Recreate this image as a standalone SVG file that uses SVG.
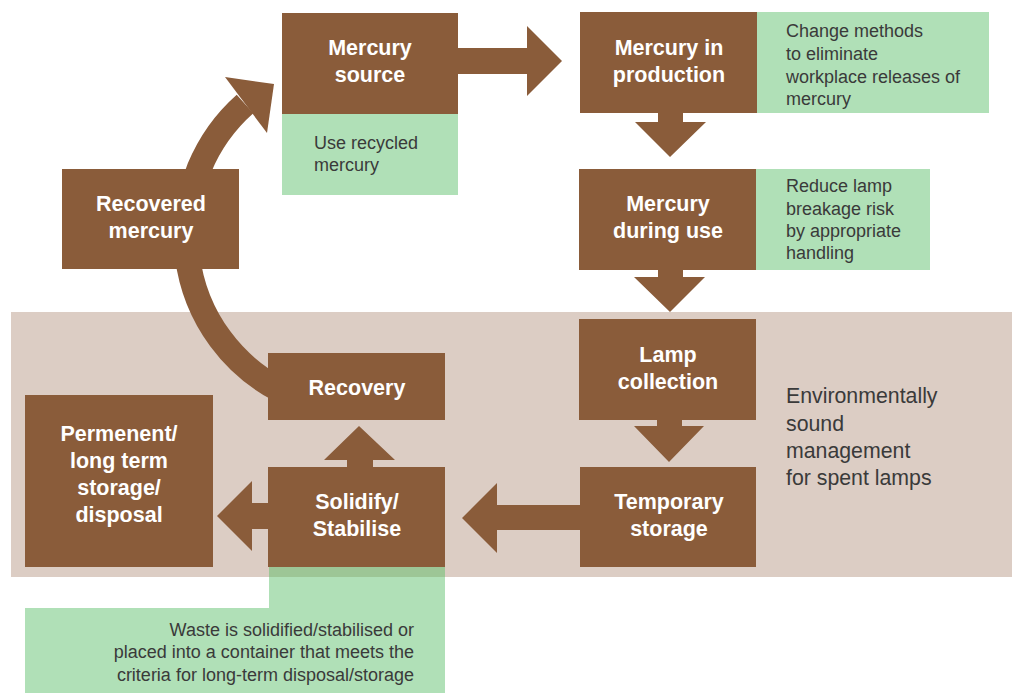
<svg xmlns="http://www.w3.org/2000/svg" width="1012" height="693" viewBox="0 0 1012 693">
<style>
.box{fill:#8a5c3a}
.note{fill:#b0e0b7}
.t{font-family:"Liberation Sans",Arial,sans-serif;font-size:21.5px;font-weight:bold;fill:#ffffff;text-anchor:middle}
.n{font-family:"Liberation Sans",Arial,sans-serif;font-size:18px;fill:#3a3a3a}
.e{font-family:"Liberation Sans",Arial,sans-serif;font-size:21.3px;fill:#3a3a3a}
.arr{fill:#8a5c3a}
</style>
<rect id="zone" x="11" y="312" width="1001" height="265" fill="#dccdc4"/>
<g id="connectors">
<path d="M280 390 A175 175 0 0 1 245 104" fill="none" stroke="#8a5c3a" stroke-width="25"/>
<polygon class="arr" points="225,77 274,84 267,133"/>
<polygon class="arr" points="458,48 527,48 527,26 562,61 527,96 527,74 458,74"/>
<polygon class="arr" points="658,112 683,112 683,122 706,122 670,157 635,122 658,122"/>
<polygon class="arr" points="658,270 683,270 683,277 705,277 670,312 634,277 658,277"/>
<polygon class="arr" points="657,420 682,420 682,426 704,426 669,462 634,426 657,426"/>
<polygon class="arr" points="580,505 497,505 497,483 462,518 497,553 497,530 580,530"/>
<polygon class="arr" points="268,503 252,503 252,481 217,516 252,551 252,529 268,529"/>
<polygon class="arr" points="347,467 347,460 324,460 359,426 395,460 373,460 373,467"/>
</g>
<g id="mercury-source">
<rect class="box" x="282" y="13" width="176" height="101"/>
<text class="t" x="370" y="55">Mercury</text>
<text class="t" x="370" y="82">source</text>
</g>
<g id="note-recycled">
<rect class="note" x="282" y="114" width="176" height="81"/>
<text class="n" x="314" y="149">Use recycled</text>
<text class="n" x="314" y="171">mercury</text>
</g>
<g id="mercury-production">
<rect class="box" x="580" y="12" width="177" height="101"/>
<text class="t" x="669" y="55">Mercury in</text>
<text class="t" x="669" y="82">production</text>
</g>
<g id="note-methods">
<rect class="note" x="757" y="12" width="232" height="101"/>
<text class="n" x="786" y="37">Change methods</text>
<text class="n" x="786" y="60">to eliminate</text>
<text class="n" x="786" y="83">workplace releases of</text>
<text class="n" x="786" y="105">mercury</text>
</g>
<g id="mercury-use">
<rect class="box" x="579" y="169" width="177" height="101"/>
<text class="t" x="668" y="211">Mercury</text>
<text class="t" x="668" y="238">during use</text>
</g>
<g id="note-breakage">
<rect class="note" x="756" y="169" width="174" height="101"/>
<text class="n" x="786" y="192">Reduce lamp</text>
<text class="n" x="786" y="215">breakage risk</text>
<text class="n" x="786" y="237">by appropriate</text>
<text class="n" x="786" y="259">handling</text>
</g>
<g id="recovered-mercury">
<rect class="box" x="62" y="169" width="177" height="100"/>
<text class="t" x="151" y="211">Recovered</text>
<text class="t" x="151" y="238">mercury</text>
</g>
<g id="lamp-collection">
<rect class="box" x="579" y="319" width="177" height="101"/>
<text class="t" x="668" y="362">Lamp</text>
<text class="t" x="668" y="389">collection</text>
</g>
<g id="recovery">
<rect class="box" x="268" y="353" width="177" height="67"/>
<text class="t" x="357" y="395">Recovery</text>
</g>
<g id="env-label">
<text class="e" x="786" y="403">Environmentally</text>
<text class="e" x="786" y="431">sound</text>
<text class="e" x="786" y="458">management</text>
<text class="e" x="786" y="485">for spent lamps</text>
</g>
<g id="permanent-storage">
<rect class="box" x="25" y="395" width="188" height="172"/>
<text class="t" x="119" y="441">Permenent/</text>
<text class="t" x="119" y="468">long term</text>
<text class="t" x="119" y="495">storage/</text>
<text class="t" x="119" y="522">disposal</text>
</g>
<g id="solidify">
<rect class="box" x="268" y="467" width="177" height="100"/>
<text class="t" x="357" y="509">Solidify/</text>
<text class="t" x="357" y="536">Stabilise</text>
</g>
<g id="temporary-storage">
<rect class="box" x="580" y="467" width="176" height="100"/>
<text class="t" x="669" y="509">Temporary</text>
<text class="t" x="669" y="536">storage</text>
</g>
<g id="note-waste">
<rect class="note" x="269" y="567" width="176" height="126"/>
<rect class="note" x="25" y="608" width="420" height="85"/>
<rect x="269" y="567" width="176" height="10" fill="#9dc696"/>
<text class="n" x="414" y="636" text-anchor="end">Waste is solidified/stabilised or</text>
<text class="n" x="414" y="658" text-anchor="end">placed into a container that meets the</text>
<text class="n" x="414" y="681" text-anchor="end">criteria for long-term disposal/storage</text>
</g>
</svg>
